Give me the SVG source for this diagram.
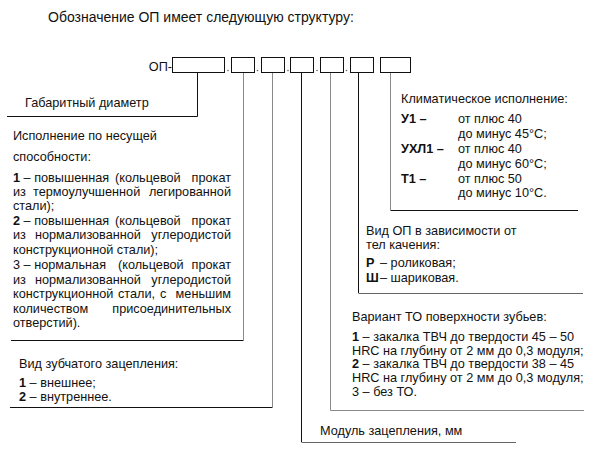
<svg xmlns="http://www.w3.org/2000/svg" width="602" height="463" viewBox="0 0 602 463">
<style>
text{font-family:"Liberation Sans",Arial,sans-serif;font-size:12.7px;fill:#111}
.b{font-weight:bold}
.e{text-anchor:end}
.t{font-size:14px}
.box{fill:#fff;stroke:#111;stroke-width:1}
.dot{fill:#666}
.k{stroke:#111;stroke-width:1;fill:none}
.g{stroke:#8a8a8a;stroke-width:1;fill:none}
.m{stroke:#666;stroke-width:1;fill:none}
</style>
<rect width="602" height="463" fill="#fff"/>
<text class="t" x="48" y="22">Обозначение ОП имеет следующую структуру:</text>

<g id="code">
<text class="e" x="172" y="70.5">ОП-</text>
<rect class="box" x="172.5" y="57.5" width="52" height="15"/>
<rect class="box" x="231.5" y="57.5" width="23" height="15"/>
<rect class="box" x="261.5" y="57.5" width="23" height="15"/>
<rect class="box" x="290.5" y="57.5" width="23" height="15"/>
<rect class="box" x="320.5" y="57.5" width="23" height="15"/>
<rect class="box" x="350.5" y="57.5" width="23" height="15"/>
<rect class="box" x="380.5" y="57.5" width="30" height="15"/>
<circle class="dot" cx="228" cy="70.5" r="0.8"/>
<circle class="dot" cx="257.5" cy="70.5" r="0.8"/>
<circle class="dot" cx="288" cy="70.5" r="0.8"/>
<circle class="dot" cx="317" cy="70.5" r="0.8"/>
<circle class="dot" cx="346.5" cy="70.5" r="0.8"/>
</g>

<g id="connectors">
<path class="k" d="M197.5 73V116.5H7"/>
<path class="g" d="M243.5 73V340"/>
<path class="k" d="M243.5 340.5H11"/>
<path class="g" d="M272.5 73V407"/>
<path class="k" d="M272.5 407.5H10"/>
<path class="k" d="M301.5 73V442"/>
<path class="m" d="M301.5 442.5H516"/>
<path class="g" d="M330.5 73V410.5H584"/>
<path class="k" d="M358.5 73V293"/>
<path class="m" d="M358.5 293.5H583"/>
<path class="g" d="M390.5 73V210"/>
<path class="k" d="M390.5 210.5H578"/>
</g>

<g id="gabarit">
<text x="25" y="107">Габаритный диаметр</text>
</g>

<g id="ispolnenie">
<text x="13" y="139.5">Исполнение по несущей</text>
<text x="13" y="161">способности:</text>
<text x="13" y="182"><tspan class="b">1</tspan> – повышенная</text>
<text x="115" y="182">(кольцевой</text>
<text class="e" x="231" y="182">прокат</text>
<text x="13" y="196">из</text>
<text x="33" y="196">термоулучшенной</text>
<text class="e" x="231" y="196">легированной</text>
<text x="13" y="210">стали);</text>
<text x="13" y="224.5"><tspan class="b">2</tspan> – повышенная</text>
<text x="115" y="224.5">(кольцевой</text>
<text class="e" x="231" y="224.5">прокат</text>
<text x="13" y="239">из</text>
<text x="35" y="239">нормализованной</text>
<text class="e" x="231" y="239">углеродистой</text>
<text x="13" y="254">конструкционной стали);</text>
<text x="13" y="269">3 – нормальная</text>
<text x="118" y="269">(кольцевой</text>
<text class="e" x="231" y="269">прокат</text>
<text x="13" y="284">из</text>
<text x="35" y="284">нормализованной</text>
<text class="e" x="231" y="284">углеродистой</text>
<text x="13" y="298">конструкционной</text>
<text x="118" y="298">стали,</text>
<text x="160" y="298">с</text>
<text class="e" x="231" y="298">меньшим</text>
<text x="13" y="312.5">количеством</text>
<text class="e" x="231" y="312.5">присоединительных</text>
<text x="13" y="326.5">отверстий).</text>
</g>

<g id="zaceplenie">
<text x="19" y="368">Вид зубчатого зацепления:</text>
<text x="19" y="386.5"><tspan class="b">1</tspan> – внешнее;</text>
<text x="19" y="401"><tspan class="b">2</tspan> – внутреннее.</text>
</g>

<g id="modul">
<text x="320" y="434.5">Модуль зацепления, мм</text>
</g>

<g id="variant-to">
<text x="352" y="321">Вариант ТО поверхности зубьев:</text>
<text x="352" y="340.5"><tspan class="b">1</tspan> – закалка ТВЧ до твердости 45 – 50</text>
<text x="352" y="354.5">HRC на глубину от 2 мм до 0,3 модуля;</text>
<text x="352" y="368"><tspan class="b">2</tspan> – закалка ТВЧ до твердости 38 – 45</text>
<text x="352" y="381.5">HRC на глубину от 2 мм до 0,3 модуля;</text>
<text x="352" y="395.5">3 – без ТО.</text>
</g>

<g id="vid-op">
<text x="366" y="234.5">Вид ОП в зависимости от</text>
<text x="366" y="249">тел качения:</text>
<text class="b" x="366" y="266.5">Р</text>
<text x="380" y="266.5">– роликовая;</text>
<text class="b" x="366" y="282">Ш</text>
<text x="380" y="282">– шариковая.</text>
</g>

<g id="klimat">
<text x="401" y="103">Климатическое исполнение:</text>
<text class="b" x="401" y="123">У1 –</text>
<text x="458" y="123">от плюс 40</text>
<text x="458" y="138">до минус 45°С;</text>
<text class="b" x="401" y="153">УХЛ1 –</text>
<text x="458" y="153">от плюс 40</text>
<text x="458" y="167.5">до минус 60°С;</text>
<text class="b" x="401" y="182.5">Т1 –</text>
<text x="458" y="182.5">от плюс 50</text>
<text x="458" y="197">до минус 10°С.</text>
</g>
</svg>
